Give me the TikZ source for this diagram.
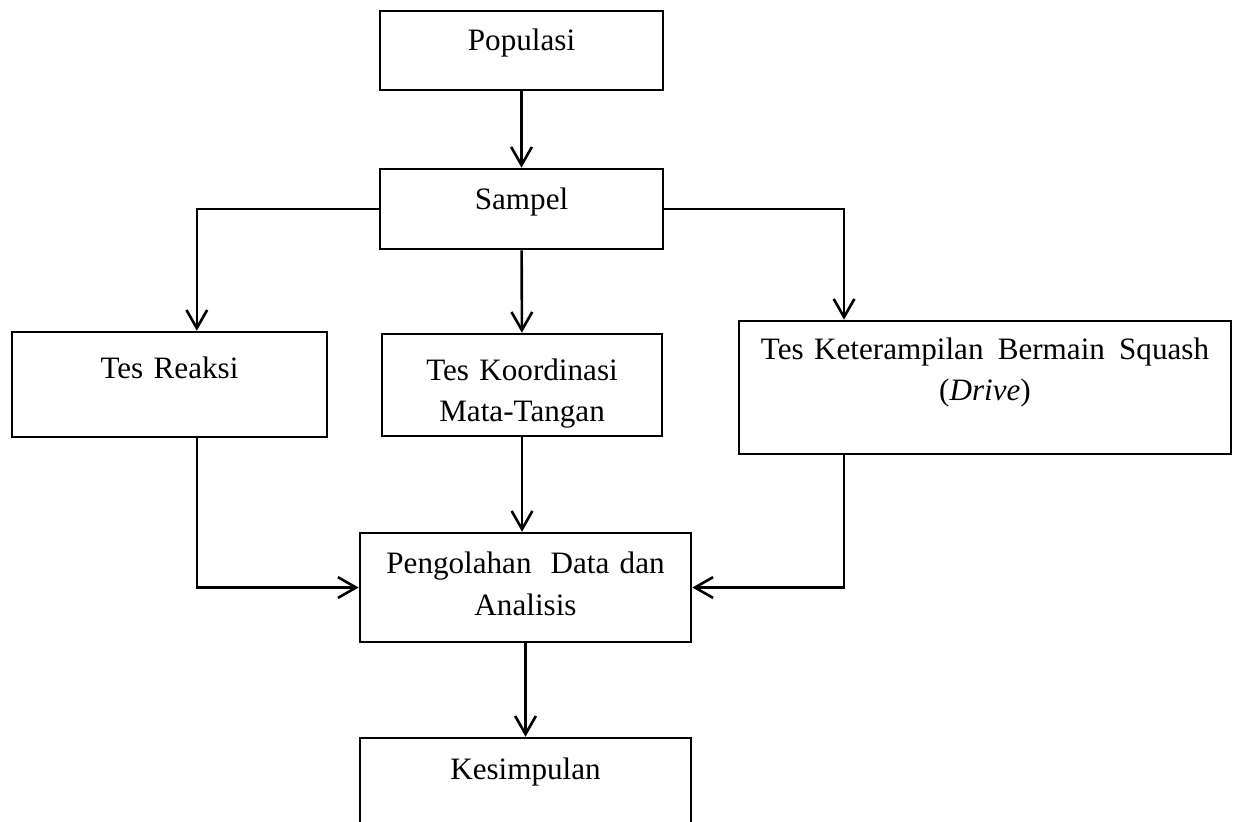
\documentclass[tikz,border=0pt]{standalone}
\usepackage{fontspec}
\setmainfont{Liberation Serif}
\usetikzlibrary{arrows.meta}

\begin{document}
\begin{tikzpicture}[>={Straight Barb[length=7pt,width=8pt]}, line width=1pt,
  stage/.style={draw, inner sep=0pt, align=center, font=\fontsize{12}{16}\selectfont}]
  \useasboundingbox (0,0) rectangle (16.744,-11.135);
  \clip (0,0) rectangle (16.744,-11.135);
  \node[stage, text width=3.834cm, text height=0.54cm, text depth=0.53cm] (pop) at (7.065,-0.684) {Populasi};
  \node[stage, text width=3.834cm, text height=0.55cm, text depth=0.534cm] (samp) at (7.065,-2.831) {Sampel};
  \node[stage, text width=4.267cm, text height=0.636cm, text depth=0.786cm] (reaksi) at (2.296,-5.209) {Tes Reaksi};
  \node[stage, text width=3.793cm, text height=0.626cm, text depth=0.756cm] (koor) at (7.072,-5.216) {Tes Koordinasi\\Mata-Tangan};
  \node[stage, text width=6.665cm, text height=0.518cm, text depth=1.284cm] (ket) at (13.344,-5.249) {\makebox[6.07cm]{Tes Keterampilan\hfill Bermain\hfill Squash}\\(\textit{Drive})};
  \node[stage, text width=4.484cm, text height=0.548cm, text depth=0.928cm] (peng) at (7.119,-7.959) {\makebox[3.77cm]{Pengolahan\hfill Data dan}\\Analisis};
  \node[stage, text width=4.484cm, text height=0.562cm, text depth=1.064cm] (kes) at (7.119,-10.811) {Kesimpulan};
  \draw[->] (pop) -- (samp);
  \draw[->] (samp.west) -| ([xshift=0.37cm]reaksi.north);
  \draw[->] (samp) -- (koor);
  \draw[->] (samp.east) -| ([xshift=-1.91cm]ket.north);
  \draw[->] ([xshift=0.37cm]reaksi.south) |- (peng.west);
  \draw[->] (koor) -- (koor |- peng.north);
  \draw[->] ([xshift=-1.91cm]ket.south) |- (peng.east);
  \draw[->] (peng) -- (kes);
\end{tikzpicture}
\end{document}
